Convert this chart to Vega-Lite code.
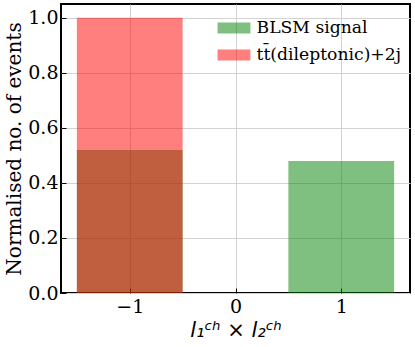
{
  "$schema": "https://vega.github.io/schema/vega-lite/v6.json",
  "width": 349,
  "height": 289,
  "autosize": {"type": "none"},
  "padding": {"left": 61, "top": 4, "right": 5, "bottom": 54},
  "background": "white",
  "config": {
    "view": {"stroke": "black", "strokeWidth": 2},
    "axis": {
      "domain": false,
      "grid": true,
      "gridColor": "#d3d3d3",
      "gridWidth": 1,
      "tickColor": "black",
      "tickSize": -5,
      "tickWidth": 1,
      "labelFont": "DejaVu Serif",
      "labelFontSize": 19,
      "labelColor": "black",
      "titleColor": "black",
      "titleFontWeight": "normal"
    }
  },
  "data": {
    "values": [
      {"lo": -1.5, "hi": -0.5, "value": 0.52, "series": "BLSM signal", "ord": 0},
      {"lo": -0.5, "hi": 0.5, "value": 0.0, "series": "BLSM signal", "ord": 0},
      {"lo": 0.5, "hi": 1.5, "value": 0.48, "series": "BLSM signal", "ord": 0},
      {"lo": -1.5, "hi": -0.5, "value": 1.0, "series": "tt̄(dileptonic)+2j", "ord": 1},
      {"lo": -0.5, "hi": 0.5, "value": 0.0, "series": "tt̄(dileptonic)+2j", "ord": 1},
      {"lo": 0.5, "hi": 1.5, "value": 0.0, "series": "tt̄(dileptonic)+2j", "ord": 1}
    ]
  },
  "mark": {"type": "rect", "opacity": 0.5},
  "encoding": {
    "x": {
      "field": "lo",
      "type": "quantitative",
      "scale": {"domain": [-1.65, 1.65], "nice": false, "zero": false},
      "axis": {
        "values": [-1, 0, 1],
        "format": "d",
        "labelPadding": 9,
        "title": "l₁ᶜʰ × l₂ᶜʰ",
        "titleFont": "DejaVu Sans",
        "titleFontStyle": "italic",
        "titleFontSize": 21,
        "titlePadding": 3
      }
    },
    "x2": {"field": "hi"},
    "y": {
      "field": "value",
      "type": "quantitative",
      "scale": {"domain": [0, 1.05], "nice": false},
      "axis": {
        "values": [0, 0.2, 0.4, 0.6, 0.8, 1.0],
        "format": ".1f",
        "labelPadding": 8,
        "title": "Normalised no. of events",
        "titleFont": "DejaVu Serif",
        "titleFontSize": 20,
        "titlePadding": 3
      }
    },
    "y2": {"datum": 0},
    "color": {
      "field": "series",
      "type": "nominal",
      "scale": {"domain": ["BLSM signal", "tt̄(dileptonic)+2j"], "range": ["#008000", "#ff0000"]},
      "legend": {
        "title": null,
        "orient": "none",
        "legendX": 162,
        "legendY": 13,
        "labelFont": "DejaVu Serif",
        "labelFontSize": 17.2,
        "labelColor": "black",
        "symbolType": "M-1.5,-0.5h3v1h-3z",
        "symbolSize": 480,
        "symbolOpacity": 0.5,
        "symbolStrokeWidth": 0,
        "rowPadding": 7,
        "labelOffset": 11.5
      }
    },
    "order": {"field": "ord"}
  }
}
